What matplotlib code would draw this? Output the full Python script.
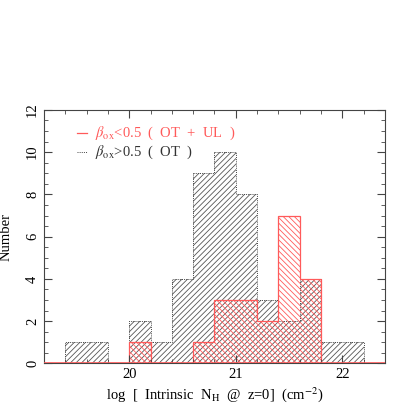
import numpy as np
import matplotlib
matplotlib.use("Agg")
from matplotlib import pyplot as plt
from matplotlib.ticker import MultipleLocator

plt.rcParams['font.family'] = ['Liberation Serif', 'DejaVu Serif']
plt.rcParams['mathtext.fontset'] = 'stix'
plt.rcParams['hatch.linewidth'] = 0.6

# Histogramm-Daten (Bins der Breite 0.2 in log NH)
edges = [19.4, 19.6, 19.8, 20.0, 20.2, 20.4, 20.6, 20.8, 21.0, 21.2, 21.4, 21.6, 21.8, 22.0, 22.2]
counts_ot = [1, 1, 0, 2, 1, 4, 9, 10, 8, 3, 2, 4, 1, 1]    # beta_ox > 0.5 (OT)
counts_ul = [0, 0, 0, 1, 0, 0, 1, 3, 3, 2, 7, 4, 0, 0]     # beta_ox < 0.5 (OT + UL)

red = '#ff5a5a'
grey = '#555555'

fig = plt.figure(figsize=(4.07, 4.07), dpi=100)
ax = fig.add_axes([0.108, 0.107, 0.838, 0.623])

e = np.array(edges)
w = np.diff(e)
left = e[:-1]

# schwarze Balken: nur Schraffur, Umriss gepunktet
ax.bar(left, counts_ot, width=w, align='edge', facecolor='none',
       edgecolor=grey, linewidth=0, hatch='//////')
ax.stairs(counts_ot, e, color='#444444', linestyle=(0, (1, 1.2)), linewidth=0.7)

# rote Balken
ax.bar(left, counts_ul, width=w, align='edge', facecolor='none',
       edgecolor=red, linewidth=0, hatch='\\\\\\\\\\\\')
ax.stairs(counts_ul, e, color=red, linewidth=0.9)
ax.axhline(0, color=red, linewidth=1.2, zorder=5)

ax.set_xlim(19.2, 22.4)
ax.set_ylim(0, 12)
ax.xaxis.set_major_locator(MultipleLocator(1))
ax.xaxis.set_minor_locator(MultipleLocator(0.2))
ax.yaxis.set_major_locator(MultipleLocator(2))
ax.yaxis.set_minor_locator(MultipleLocator(0.5))
ax.tick_params(which='both', direction='in', top=True, right=True, color='#444444')
ax.tick_params(which='major', length=6, labelsize=10.5)
ax.tick_params(which='minor', length=3)
for lab in ax.get_yticklabels():
    lab.set_rotation(90)
    lab.set_va('center')
for s in ax.spines.values():
    s.set_color('#444444')
    s.set_linewidth(0.8)

ax.set_xlabel(r'log  [  Intrinsic  N$_{\rm H}$  @  z=0]  (cm$^{-2}$)', fontsize=10.5, labelpad=3)
ax.set_ylabel('Number', fontsize=10.5, labelpad=10)

# Legende von Hand
ax.plot([0.097, 0.126], [0.908, 0.908], color=red, linewidth=0.9, transform=ax.transAxes)
ax.text(0.15, 0.908, r'$\beta_{\rm ox}$<0.5  (  OT  +  UL  )', color=red, fontsize=10.5,
        va='center', transform=ax.transAxes)
ax.plot([0.097, 0.126], [0.833, 0.833], color='#444444', linewidth=0.7,
        linestyle=(0, (1, 1.2)), transform=ax.transAxes)
ax.text(0.15, 0.833, r'$\beta_{\rm ox}$>0.5  (  OT  )', color='#333333', fontsize=10.5,
        va='center', transform=ax.transAxes)

fig.savefig('out.png', dpi=100)
